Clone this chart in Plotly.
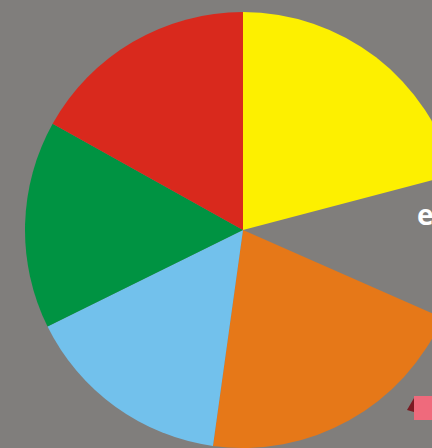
import plotly.graph_objects as go

# Slice data (clockwise from 12 o'clock)
labels = ["Yellow", "Pink", "Orange", "Light blue", "Green", "Red"]
values = [20.9, 10.7, 20.6, 15.5, 15.4, 16.9]
colors = ["#fdf000", "rgba(0,0,0,0)", "#e67818", "#72c1ec", "#009342", "#d9291d"]

W, H = 470, 448
BG = "#807e7c"

fig = go.Figure(
    go.Pie(
        labels=labels,
        values=values,
        marker=dict(colors=colors, line=dict(width=0)),
        sort=False,
        direction="clockwise",
        rotation=0,
        textinfo="none",
        hoverinfo="label+percent",
        showlegend=False,
        domain=dict(x=[25 / W, 461 / W], y=[0, 436 / H]),
    )
)

fig.add_annotation(
    text="<b>e</b>",
    xref="paper", yref="paper",
    x=415 / W, y=(H - 214) / H,
    xanchor="left", yanchor="middle",
    showarrow=False,
    font=dict(family="Open Sans", size=28, color="white"),
)

fig.add_shape(
    type="path", xref="paper", yref="paper",
    path="M %f %f L %f %f L %f %f Z" % (
        407 / W, (H - 410) / H, 414 / W, (H - 398) / H, 414 / W, (H - 412) / H),
    fillcolor="#7a1a22", line=dict(width=0),
)
fig.add_shape(
    type="rect", xref="paper", yref="paper",
    x0=414 / W, x1=440 / W, y0=(H - 420) / H, y1=(H - 396) / H,
    fillcolor="#ef6a7c", line=dict(width=0),
)

fig.update_layout(
    width=W,
    height=H,
    margin=dict(l=0, r=0, t=0, b=0),
    paper_bgcolor=BG,
    plot_bgcolor=BG,
)

fig.write_html(
    "out.html",
    config={"displayModeBar": False},
    post_script="document.body.style.margin='0';document.body.style.overflow='hidden';document.body.style.background='%s';" % BG,
)
